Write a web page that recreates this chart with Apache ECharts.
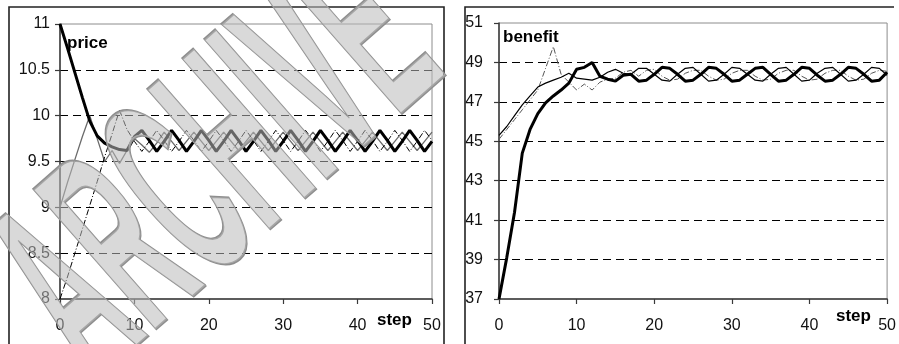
<!DOCTYPE html>
<html>
<head>
<meta charset="utf-8">
<script src="https://cdn.jsdelivr.net/npm/echarts@6/dist/echarts.min.js"></script>
<style>
  html, body { margin: 0; padding: 0; background: #fff; }
  #chart { width: 899px; height: 344px; }
</style>
</head>
<body>
<div id="chart"></div>
<script>
// Steps 0..50 shared by both panels
var steps = [];
for (var s = 0; s <= 50; s++) steps.push(s);

var xTicks = [0, 10, 20, 30, 40, 50];
var priceTicks = [8, 8.5, 9, 9.5, 10, 10.5, 11];
var benefitTicks = [37, 39, 41, 43, 45, 47, 49, 51];

// Price of each agent per step
var priceHigh = [11.0, 10.74, 10.47, 10.2, 9.94, 9.78, 9.7, 9.66, 9.63, 9.62, 9.77,
  9.84, 9.73, 9.61, 9.72, 9.84, 9.73, 9.61, 9.72, 9.84, 9.73,
  9.61, 9.72, 9.84, 9.73, 9.61, 9.72, 9.84, 9.73, 9.61, 9.72,
  9.84, 9.73, 9.61, 9.72, 9.84, 9.73, 9.61, 9.72, 9.84, 9.73,
  9.61, 9.72, 9.84, 9.73, 9.61, 9.72, 9.84, 9.73, 9.61, 9.72];
var priceLow = [8.0, 8.24, 8.5, 8.76, 9.02, 9.28, 9.55, 9.8, 10.06, 9.85, 9.72,
  9.61, 9.72, 9.84, 9.73, 9.61, 9.72, 9.84, 9.73, 9.61, 9.72,
  9.84, 9.73, 9.61, 9.72, 9.84, 9.73, 9.61, 9.72, 9.84, 9.73,
  9.61, 9.72, 9.84, 9.73, 9.61, 9.72, 9.84, 9.73, 9.61, 9.72,
  9.84, 9.73, 9.61, 9.72, 9.84, 9.73, 9.61, 9.72, 9.84, 9.73];
var priceMid = [9.0, 9.27, 9.52, 9.77, 10.0, 9.75, 9.5, 9.62, 9.48, 9.62, 9.75,
  9.68, 9.6, 9.7, 9.82, 9.72, 9.62, 9.72, 9.82, 9.72, 9.62,
  9.72, 9.82, 9.72, 9.62, 9.72, 9.82, 9.72, 9.62, 9.72, 9.82,
  9.72, 9.62, 9.72, 9.82, 9.72, 9.62, 9.72, 9.82, 9.72, 9.62,
  9.72, 9.82, 9.72, 9.62, 9.72, 9.82, 9.72, 9.62, 9.72, 9.82];

// Benefit of each agent per step
var benefitA = [37.0, 39.1, 41.4, 44.4, 45.6, 46.4, 46.95, 47.3, 47.6, 47.95, 48.65,
  48.75, 49.0, 48.3, 48.15, 48.05, 48.35, 48.4, 48.05, 48.1, 48.4,
  48.75, 48.7, 48.4, 48.05, 48.1, 48.4, 48.75, 48.7, 48.4, 48.05,
  48.1, 48.4, 48.7, 48.75, 48.4, 48.05, 48.1, 48.4, 48.75, 48.7,
  48.35, 48.05, 48.1, 48.4, 48.75, 48.7, 48.4, 48.05, 48.1, 48.5];
var benefitB = [45.3, 45.75, 46.3, 46.85, 47.3, 47.75, 47.95, 48.1, 48.25, 48.45, 48.2,
  48.15, 48.1, 48.25, 48.5, 48.65, 48.45, 48.4, 48.7, 48.7, 48.4,
  48.1, 48.05, 48.4, 48.7, 48.75, 48.4, 48.05, 48.1, 48.4, 48.75,
  48.7, 48.4, 48.1, 48.05, 48.4, 48.7, 48.75, 48.4, 48.05, 48.1,
  48.45, 48.7, 48.75, 48.4, 48.05, 48.1, 48.4, 48.75, 48.7, 48.35];
var benefitC = [45.1, 45.6, 46.1, 46.6, 47.1, 47.6, 48.7, 49.8, 48.4, 48.0, 47.6,
  47.9, 47.6, 48.0, 48.15, 48.2, 48.5, 48.6, 48.3, 48.6, 48.65,
  48.3, 48.1, 48.15, 48.45, 48.6, 48.6, 48.3, 48.1, 48.15, 48.45,
  48.6, 48.6, 48.3, 48.1, 48.15, 48.45, 48.6, 48.6, 48.3, 48.1,
  48.15, 48.45, 48.6, 48.6, 48.3, 48.1, 48.15, 48.45, 48.6, 48.55];

function pairs(ys) {
  return ys.map(function (v, i) { return [steps[i], v]; });
}

var FONT = '"Liberation Sans", Arial, sans-serif';
var DASH_DOT = [6, 2, 1, 2];

function xAxisFor(gridIndex) {
  return {
    type: 'value', gridIndex: gridIndex,
    min: xTicks[0], max: xTicks[xTicks.length - 1], interval: 10,
    axisLine: { show: true, onZero: false, lineStyle: { color: '#3a3a3a', width: 1.5 } },
    axisTick: { show: true, length: 5, lineStyle: { color: '#3a3a3a', width: 1.2 } },
    axisLabel: { fontSize: 16, color: '#111', fontFamily: FONT, margin: 19 },
    splitLine: { show: false }
  };
}

function yAxisFor(gridIndex, ticks, interval, margin) {
  return {
    type: 'value', gridIndex: gridIndex,
    min: ticks[0], max: ticks[ticks.length - 1], interval: interval,
    axisLine: { show: true, onZero: false, lineStyle: { color: '#3a3a3a', width: 1.5 } },
    axisTick: { show: true, length: 5, lineStyle: { color: '#3a3a3a', width: 1.2 } },
    axisLabel: { fontSize: 16, color: '#111', fontFamily: FONT, margin: margin },
    splitLine: {
      show: true, showMinLine: false, showMaxLine: false,
      lineStyle: { color: '#000', width: 1, type: [8, 5] }
    }
  };
}

function line(gridIndex, data, color, width, type, z) {
  return {
    type: 'line', xAxisIndex: gridIndex, yAxisIndex: gridIndex,
    data: pairs(data), showSymbol: false, symbol: 'none',
    lineStyle: { color: color, width: width, type: type },
    z: z, silent: true
  };
}

var chart = echarts.init(document.getElementById('chart'), null, { renderer: 'canvas' });

chart.setOption({
  animation: false,
  backgroundColor: '#fff',
  grid: [
    { left: 60, top: 24, width: 372, height: 275, show: true, borderColor: '#8c8c8c', borderWidth: 1, backgroundColor: 'transparent' },
    { left: 499, top: 23, width: 391, height: 276, show: true, borderColor: '#8c8c8c', borderWidth: 1, backgroundColor: 'transparent' }
  ],
  xAxis: [xAxisFor(0), xAxisFor(1)],
  yAxis: [yAxisFor(0, priceTicks, 0.5, 10), yAxisFor(1, benefitTicks, 2, 16)],
  series: [
    line(0, priceMid, '#6a6a6a', 1.3, 'solid', 3),
    line(0, priceLow, '#000', 1, DASH_DOT, 4),
    line(0, priceHigh, '#000', 3, 'solid', 5),
    line(1, benefitC, '#555', 1, DASH_DOT, 3),
    line(1, benefitB, '#000', 1.2, 'solid', 4),
    line(1, benefitA, '#000', 3, 'solid', 5)
  ],
  graphic: [
    // panel frames
    { type: 'polyline', shape: { points: [[9, 344], [9, 7], [444, 7], [444, 344]] }, style: { stroke: '#222', lineWidth: 1.6, fill: null }, z: 1 },
    { type: 'polyline', shape: { points: [[465, 344], [465, 7], [894, 7]] }, style: { stroke: '#222', lineWidth: 1.6, fill: null }, z: 1 },
    // panel titles
    { type: 'text', left: 67, top: 35, style: { text: 'price', font: 'bold 17px ' + FONT, fill: '#000' }, z: 10 },
    { type: 'text', left: 503, top: 29, style: { text: 'benefit', font: 'bold 17px ' + FONT, fill: '#000' }, z: 10 },
    { type: 'text', left: 377, top: 312, style: { text: 'step', font: 'bold 17px ' + FONT, fill: '#000' }, z: 10 },
    { type: 'text', left: 836, top: 308, style: { text: 'step', font: 'bold 17px ' + FONT, fill: '#000' }, z: 10 },
    // diagonal archive stamp across the left panel
    {
      type: 'text', x: 222, y: 172, rotation: 0.72, scaleX: 0.7, scaleY: 1.8,
      style: {
        text: 'ARCHIVE', font: 'bold 150px ' + FONT,
        fill: 'rgba(185,185,185,0.55)', stroke: '#8e8e8e', lineWidth: 1.6,
        align: 'center', verticalAlign: 'middle'
      },
      z: 50, silent: true
    }
  ]
});
</script>
</body>
</html>
